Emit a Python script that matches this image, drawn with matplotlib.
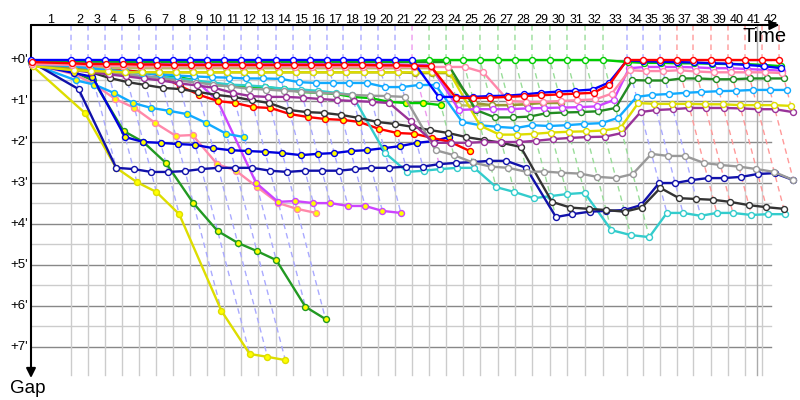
import numpy as np
import matplotlib.pyplot as plt

plt.rcParams['font.family'] = ['Liberation Sans', 'DejaVu Sans']

# leader's elapsed time (minutes) at the end of each lap, lap 0 = start
lap_time = [0, 3.74, 5.33, 6.92, 8.50, 10.09, 11.68, 13.27, 14.86, 16.45, 18.04,
            19.63, 21.21, 22.90, 24.49, 26.07, 27.66, 29.16, 30.84, 32.43, 34.02,
            35.61, 37.20, 38.79, 40.37, 41.96, 43.64, 45.23, 46.82, 48.50, 50.09,
            51.78, 53.46, 55.70, 57.20, 58.79, 60.37, 61.87, 63.55, 65.14, 66.73,
            68.32, 69.91]
lap_labels = [str(i) for i in range(1, 43)]
gap_labels = ["+%d'" % i for i in range(8)]

# gap to the leader (minutes), one value per completed lap, starting at lap 0
gap_red = [0.05, 0.08, 0.1, 0.1, 0.1, 0.11, 0.11, 0.12, 0.12, 0.12, 0.12, 0.12,
           0.12, 0.12, 0.12, 0.12, 0.12, 0.12, 0.12, 0.13, 0.13, 0.14, 0.15,
           0.92, 0.93, 0.92, 0.9, 0.88, 0.86, 0.84, 0.82, 0.8, 0.6,
           0, 0, 0, 0, 0, 0, 0, 0, 0, 0]
gap_blue = [0.0] * 22 + [0.9, 0.9, 0.9, 0.88, 0.87, 0.84, 0.8, 0.77, 0.75, 0.72,
                         0.55, 0.01, 0.03, 0.04, 0.05, 0.06, 0.08, 0.09, 0.12,
                         0.15, 0.2]
gap_green = [0.02] + [0.03] * 21 + [0.0] * 11 + [0.05, 0.07, 0.07, 0.08, 0.08,
                                                 0.09, 0.1, 0.1, 0.12, 0.15]
gap_pink = [0.1, 0.12, 0.13, 0.14, 0.14, 0.15, 0.15, 0.15, 0.15, 0.15, 0.15,
            0.15, 0.15, 0.15, 0.16, 0.16, 0.16, 0.16, 0.16, 0.17, 0.17, 0.17,
            0.17, 0.17, 0.17, 0.3, 1.0, 1.02, 1.02, 1.0, 0.98, 0.96, 0.82,
            0.25, 0.27, 0.27, 0.25, 0.28, 0.3, 0.3, 0.3, 0.3, 0.32]
gap_violet = [0.08, 0.08, 0.09, 0.09, 0.1, 0.1, 0.1, 0.1, 0.1, 0.1, 0.1, 0.1,
              0.1, 0.1, 0.1, 0.1, 0.1, 0.1, 0.11, 0.11, 0.11, 0.12, 0.12,
              1.22, 1.2, 1.2, 1.2, 1.18, 1.17, 1.16, 1.15, 1.13, 0.98,
              0.2, 0.17, 0.17, 0.17, 0.18, 0.2, 0.2, 0.22, 0.24, 0.26]
gap_dkgreen = [0.03] + [0.05] * 23 + [1.22, 1.4, 1.4, 1.38, 1.3, 1.28, 1.27,
                                      1.25, 1.17, 0.49, 0.5, 0.5, 0.45, 0.45,
                                      0.47, 0.47, 0.45, 0.45, 0.45]
gap_yellow = [0.15, 0.25, 0.27, 0.28, 0.3, 0.3, 0.3, 0.3, 0.3, 0.3, 0.3, 0.3,
              0.3, 0.3, 0.3, 0.3, 0.3, 0.3, 0.3, 0.3, 0.3, 0.3, 0.3, 0.3,
              1.6, 1.82, 1.82, 1.8, 1.77, 1.75, 1.74, 1.72, 1.65,
              1.05, 1.07, 1.07, 1.07, 1.08, 1.08, 1.1, 1.1, 1.1, 1.12]
gap_ltblue = [0.1, 0.15, 0.2, 0.25, 0.28, 0.32, 0.35, 0.38, 0.4, 0.42, 0.43,
              0.45, 0.45, 0.46, 0.54, 0.56, 0.56, 0.56, 0.56, 0.66, 0.66, 0.61,
              0.61, 1.51, 1.59, 1.63, 1.66, 1.59, 1.61, 1.59, 1.56, 1.54, 1.41,
              0.9, 0.85, 0.83, 0.8, 0.78, 0.76, 0.75, 0.73, 0.73, 0.73]
gap_purple = [0.12, 0.25, 0.3, 0.35, 0.4, 0.45, 0.5, 0.57, 0.62, 0.68, 0.8,
              0.88, 0.9, 0.9, 0.92, 0.95, 0.98, 1.0, 1.02, 1.05, 1.5, 2.02,
              2.02, 2.02, 2.0, 2.0, 2.0, 1.97, 1.93, 1.9, 1.88, 1.87, 1.78,
              1.27, 1.22, 1.2, 1.17, 1.17, 1.17, 1.18, 1.2, 1.2, 1.27]
gap_grey = [0.1, 0.18, 0.25, 0.3, 0.35, 0.4, 0.45, 0.5, 0.55, 0.6, 0.65, 0.7,
            0.72, 0.75, 0.77, 0.8, 0.82, 0.85, 0.87, 0.88, 0.9, 2.2, 2.32,
            2.5, 2.6, 2.63, 2.73, 2.72, 2.75, 2.77, 2.85, 2.88, 2.78, 2.29,
            2.34, 2.34, 2.51, 2.56, 2.6, 2.66, 2.73, 2.93]
gap_black = [0.1, 0.2, 0.3, 0.44, 0.54, 0.61, 0.68, 0.71, 0.78, 0.85, 0.9, 0.98,
             1.05, 1.22, 1.27, 1.29, 1.34, 1.41, 1.51, 1.56, 1.63, 1.71, 1.78,
             1.88, 1.95, 2.02, 2.12, 3.46, 3.6, 3.63, 3.66, 3.7, 3.6, 3.12,
             3.37, 3.39, 3.41, 3.46, 3.54, 3.59, 3.63]
gap_navy = [0.05, 0.71, 2.63, 2.66, 2.73, 2.73, 2.71, 2.66, 2.63, 2.63, 2.63,
            2.7, 2.73, 2.7, 2.7, 2.7, 2.66, 2.63, 2.63, 2.6, 2.6, 2.54, 2.51,
            2.49, 2.46, 2.46, 2.63, 3.83, 3.76, 3.7, 3.68, 3.66, 3.54, 3.0,
            3.0, 2.93, 2.88, 2.88, 2.85, 2.78, 2.76, 2.93]
gap_cyan = [0.08, 0.15, 0.25, 0.3, 0.35, 0.4, 0.42, 0.45, 0.5, 0.55, 0.6, 0.62,
            0.65, 0.7, 0.72, 0.75, 0.8, 0.85, 2.27, 2.73, 2.7, 2.66, 2.63,
            2.63, 3.1, 3.22, 3.37, 3.32, 3.27, 3.24, 4.15, 4.27, 4.32, 3.73,
            3.73, 3.8, 3.73, 3.73, 3.78, 3.76, 3.76]
gap_olive = [0.1, 0.2, 0.25, 0.28, 0.3, 0.3, 0.3, 0.3, 0.3, 0.3, 0.3, 0.3, 0.3,
             0.3, 0.3, 0.3, 0.3, 0.3, 0.3, 0.3, 0.3, 0.32, 0.32, 0.32,
             1.05, 1.1, 1.1, 1.08, 1.05, 1.05]
gap_khaki = [0.08, 0.15, 0.18, 0.2, 0.2, 0.2, 0.2, 0.2, 0.2, 0.2, 0.2, 0.2,
             0.2, 0.2, 0.2, 0.2, 0.2, 0.2, 0.2, 0.2, 0.2, 0.2, 0.2,
             1.1, 1.12, 1.1, 1.1, 1.08]
gap_blue_y = [0.1, 0.32, 0.41, 1.88, 2.0, 2.02, 2.05, 2.07, 2.15, 2.2, 2.22,
              2.24, 2.27, 2.32, 2.29, 2.27, 2.22, 2.2, 2.15, 2.1, 2.02, 1.98,
              1.88]
gap_green_y = [0.05, 0.1, 0.15, 0.2, 0.25, 0.3, 0.35, 0.41, 0.5, 0.61, 0.63,
               0.66, 0.66, 0.71, 0.78, 0.8, 0.83, 0.9, 0.93, 1.02, 1.05, 1.05,
               1.1]
gap_red_y = [0.05, 0.08, 0.12, 0.18, 0.25, 0.3, 0.37, 0.63, 0.85, 1.0, 1.05,
             1.15, 1.17, 1.32, 1.39, 1.44, 1.46, 1.51, 1.68, 1.78, 1.8, 1.9,
             2.0, 2.22]
gap_ltblue_y = [0.1, 0.5, 0.6, 0.8, 1.05, 1.17, 1.24, 1.32, 1.54, 1.8, 1.88]
gap_pink_y = [0.1, 0.35, 0.6, 0.95, 1.17, 1.54, 1.85, 1.83, 2.54, 2.7, 3.1,
              3.49, 3.63, 3.73]
gap_violet_y = [0.05, 0.15, 0.25, 0.3, 0.35, 0.4, 0.42, 0.45, 0.48, 1.0, 3.0,
                3.46, 3.44, 3.49, 3.49, 3.56, 3.56, 3.68, 3.73]
gap_yellow_y = [0.15, 1.29, 2.63, 2.98, 3.22, 3.76, 6.12, 7.17, 7.24, 7.32]
gap_dkgreen_y = [0.08, 0.3, 0.5, 1.73, 2.0, 2.51, 3.49, 4.17, 4.46, 4.66, 4.88,
                 6.02, 6.32]

# (gaps, line colour, marker face)
series = [
    (gap_yellow_y, '#dddd00', '#ffff00'),
    (gap_dkgreen_y, '#229922', '#ffff00'),
    (gap_pink_y, '#ff88aa', '#ffff00'),
    (gap_violet_y, '#cc44ff', '#ffff00'),
    (gap_ltblue_y, '#11aaff', '#ffff00'),
    (gap_blue_y, '#0000dd', '#ffff00'),
    (gap_green_y, '#00cc00', '#ffff00'),
    (gap_red_y, '#ff0000', '#ffff00'),
    (gap_cyan, '#33cccc', 'white'),
    (gap_navy, '#1111aa', 'white'),
    (gap_black, '#333333', 'white'),
    (gap_grey, '#999999', 'white'),
    (gap_purple, '#993399', 'white'),
    (gap_khaki, '#bbbb66', 'white'),
    (gap_olive, '#999933', 'white'),
    (gap_ltblue, '#11aaff', 'white'),
    (gap_yellow, '#dddd00', 'white'),
    (gap_dkgreen, '#228b22', 'white'),
    (gap_violet, '#cc44ff', 'white'),
    (gap_pink, '#ff88aa', 'white'),
    (gap_green, '#00cc00', 'white'),
    (gap_blue, '#0000ff', 'white'),
    (gap_red, '#ff0000', 'white'),
]

lap_line_color = (['#aaaaff'] * 20 + ['#ee99ee'] + ['#99dd99'] * 11 +
                  ['#aaaaff'] * 3 + ['#ff9999'] * 7)

px_x = 10.7   # pixels per minute, time axis
px_y = 41.0   # pixels per minute, gap axis
y_top = -35 / px_y
y_bot = 315 / px_y

fig = plt.figure(figsize=(8, 4), dpi=100)
ax = fig.add_axes([0, 0, 1, 1])
ax.set_xlim(-31 / px_x, 769 / px_x)
ax.set_ylim(340 / px_y, -60 / px_y)
ax.axis('off')

t = np.array(lap_time)

# grid
for g in np.arange(0, 7.01, 0.5):
    major = float(g).is_integer()
    ax.plot([0, 69.16], [g, g], color='#888888' if major else '#cccccc',
            lw=1, zorder=1)
for tl in t[1:42]:
    ax.plot([tl, tl], [0, y_bot], color='#cccccc', lw=1, zorder=1)
ax.plot([67.85, 67.85], [y_top, y_bot], color='#aaaaaa', lw=1, zorder=1)

# lap lines: leader at the top, each car crosses at leader time + gap
for lap in range(1, 43):
    gmax = max(s[0][lap] for s in series if len(s[0]) > lap)
    tl = t[lap]
    ax.plot([tl, tl, tl + gmax], [y_top, 0, gmax], color=lap_line_color[lap - 1],
            lw=1, ls=(0, (4, 3)), zorder=2)

# cars
for k, (gaps, col, face) in enumerate(series):
    g = np.array(gaps)
    x = t[:len(g)] + g
    ax.plot(x, g, '-o', color=col, lw=1.7, ms=4.3, mfc=face, mec=col, mew=1,
            zorder=3 + k * 0.01, clip_on=False)

# axes with arrows
ax.annotate('', xy=(69.95, y_top), xytext=(0, y_top),
            arrowprops=dict(arrowstyle='-|>', color='black', lw=1.5,
                            mutation_scale=14, shrinkA=0, shrinkB=0))
ax.annotate('', xy=(0, 318 / px_y), xytext=(0, y_top),
            arrowprops=dict(arrowstyle='-|>', color='black', lw=1.5,
                            mutation_scale=14, shrinkA=0, shrinkB=0))

for i, lab in enumerate(lap_labels):
    ax.text((t[i] + t[i + 1]) / 2, -40 / px_y, lab, ha='center', va='center',
            fontsize=9)
for i, lab in enumerate(gap_labels):
    ax.text(-3 / px_x, i, lab, ha='right', va='center', fontsize=9.5)

ax.text(68.6, -23 / px_y, 'Time', ha='center', va='center', fontsize=14.5)
ax.text(-3 / px_x, 329 / px_y, 'Gap', ha='center', va='center', fontsize=13.5)

plt.savefig('out.png', dpi=100)
